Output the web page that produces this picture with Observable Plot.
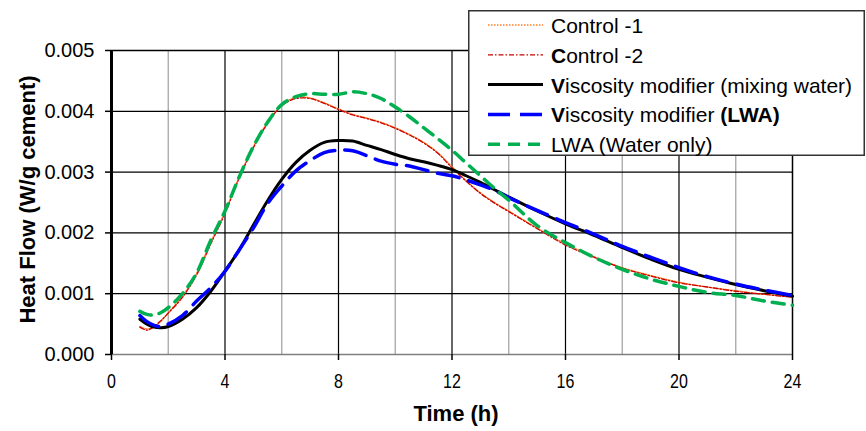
<!DOCTYPE html>
<html>
<head>
<meta charset="utf-8">
<script src="https://cdn.jsdelivr.net/npm/d3@7"></script>
<script src="https://cdn.jsdelivr.net/npm/@observablehq/plot@0.6"></script>
<style>
  body { margin: 0; background: #fff; }
  #wrap { position: relative; width: 866px; height: 431px; font-family: 'Liberation Sans', Arial, sans-serif; }
  #legend { position: absolute; left: 468px; top: 10px; }
</style>
</head>
<body>
<div id="wrap"></div>
<script>
// ---- data ----
const time = [1, 1.25, 1.5, 1.75, 2, 2.5, 3, 3.5, 4, 4.5, 5, 5.5, 6, 6.5, 7, 7.5, 8, 8.5, 9, 9.5, 10, 10.5, 11, 11.5, 12, 12.5, 13, 13.5, 14, 15, 16, 17, 18, 19, 20, 21, 22, 23, 24];

const control1 = [0.00046, 0.00042, 0.00045, 0.00055, 0.00069, 0.00096, 0.00134, 0.00185, 0.00235, 0.00292, 0.00342, 0.00382, 0.00410, 0.00423, 0.00422, 0.00414, 0.00404, 0.00395, 0.00389, 0.00382, 0.00373, 0.00362, 0.00349, 0.00332, 0.00309, 0.00286, 0.00266, 0.00250, 0.00236, 0.00208, 0.00182, 0.00161, 0.00143, 0.00130, 0.00119, 0.00111, 0.00105, 0.00099, 0.00095];

const control2 = [0.00045, 0.00040, 0.00046, 0.00056, 0.00068, 0.00094, 0.00131, 0.00182, 0.00232, 0.00290, 0.00340, 0.00380, 0.00409, 0.00421, 0.00421, 0.00413, 0.00403, 0.00394, 0.00388, 0.00381, 0.00372, 0.00361, 0.00348, 0.00331, 0.00307, 0.00285, 0.00265, 0.00249, 0.00235, 0.00207, 0.00180, 0.00160, 0.00142, 0.00129, 0.00118, 0.00111, 0.00104, 0.00099, 0.00094];

const vmMixing = [0.00058, 0.00050, 0.00045, 0.00044, 0.00046, 0.00058, 0.00077, 0.00104, 0.00137, 0.00172, 0.00213, 0.00253, 0.00288, 0.00316, 0.00336, 0.00349, 0.00352, 0.00351, 0.00344, 0.00337, 0.00329, 0.00322, 0.00317, 0.00311, 0.00304, 0.00294, 0.00283, 0.00271, 0.00259, 0.00236, 0.00215, 0.00196, 0.00176, 0.00157, 0.00140, 0.00127, 0.00115, 0.00105, 0.00096];

const vmLWA = [0.00064, 0.00054, 0.00048, 0.00046, 0.00050, 0.00064, 0.00088, 0.00110, 0.00137, 0.00172, 0.00208, 0.00248, 0.00277, 0.00302, 0.00319, 0.00332, 0.00336, 0.00335, 0.00327, 0.00318, 0.00313, 0.00310, 0.00304, 0.00298, 0.00294, 0.00287, 0.00279, 0.00270, 0.00258, 0.00237, 0.00217, 0.00198, 0.00178, 0.00160, 0.00143, 0.00128, 0.00116, 0.00106, 0.00097];

const lwaWater = [0.00071, 0.00066, 0.00065, 0.00069, 0.00077, 0.00100, 0.00134, 0.00188, 0.00236, 0.00292, 0.00342, 0.00382, 0.00411, 0.00424, 0.00429, 0.00428, 0.00428, 0.00432, 0.00429, 0.00421, 0.00407, 0.00391, 0.00373, 0.00355, 0.00336, 0.00315, 0.00294, 0.00273, 0.00254, 0.00212, 0.00184, 0.00160, 0.00140, 0.00124, 0.00112, 0.00102, 0.00097, 0.00088, 0.00081];

const seriesNames = ["Control -1", "Control -2", "Viscosity modifier (mixing water)", "Viscosity modifier (LWA)", "LWA (Water only)"];
const seriesValues = [control1, control2, vmMixing, vmLWA, lwaWater];
const seriesColors = ["#ff7f27", "#cc0000", "#000000", "#0000ff", "#00b050"];
const seriesDash = ["1.5,1.5", "5,2,1.5,2", null, "22,10", "12,8"];
const seriesWidth = [1.3, 1.3, 3, 3.5, 3.5];
// legend text pieces that the reference renders in bold
const legendBold = [[], ["C"], ["V"], ["V", "(LWA)"], []];

const xTicks = [0, 4, 8, 12, 16, 20, 24];
const xMinor = [2, 6, 10, 14, 18, 22];
const yTicks = [0, 0.001, 0.002, 0.003, 0.004, 0.005];

// ---- table built from the arrays ----
const rows = seriesNames.map((name, i) => time.map((t, j) => ({series: name, time: t, value: seriesValues[i][j]})));

const lineMarks = rows.map((data, i) => Plot.line(data, {
  x: "time", y: "value",
  stroke: seriesColors[i],
  strokeWidth: seriesWidth[i],
  strokeDasharray: seriesDash[i] || undefined,
  curve: "catmull-rom"
}));

const chart = Plot.plot({
  width: 866,
  height: 431,
  marginLeft: 111,
  marginRight: 74,
  marginTop: 50,
  marginBottom: 77,
  x: {domain: [0, 24]},
  y: {domain: [0, 0.005]},
  style: {fontFamily: "'Liberation Sans', Arial, sans-serif", fontSize: "20px", color: "#000", background: "#fff"},
  marks: [
    Plot.gridX(xMinor, {stroke: "#a6a6a6", strokeOpacity: 1, strokeWidth: 1.3}),
    Plot.gridX(xTicks.slice(1, -1), {stroke: "#000", strokeOpacity: 1, strokeWidth: 1.2}),
    Plot.gridY(yTicks.slice(1, -1), {stroke: "#000", strokeOpacity: 1, strokeWidth: 1.2}),
    Plot.ruleY([0.005], {stroke: "#000", strokeWidth: 1.5}),
    Plot.ruleX([24], {stroke: "#000", strokeWidth: 1.5}),
    Plot.ruleY([0], {stroke: "#808080", strokeWidth: 1.5}),
    Plot.ruleX([0], {stroke: "#000", strokeWidth: 3}),
    Plot.axisY(yTicks, {tickSize: 6, tickPadding: 11, tickFormat: d => d.toFixed(3), label: null, fontSize: 20, strokeWidth: 1.5}),
    Plot.axisX(xTicks, {tickSize: 6, tickPadding: 13, label: null, fontSize: 20, strokeWidth: 1.5}),
    ...lineMarks,
    Plot.text(["Heat Flow (W/g cement)"], {text: d => d, frameAnchor: "left", textAnchor: "middle", lineAnchor: "middle", dx: -84, dy: -3, rotate: -90, fontSize: 22, fontWeight: "bold"}),
    Plot.text(["Time (h)"], {text: d => d, frameAnchor: "bottom", lineAnchor: "middle", dx: 4, dy: 59, fontSize: 22, fontWeight: "bold"})
  ]
});

const wrap = document.getElementById("wrap");
wrap.appendChild(chart);

// condensed x tick labels, as in the reference
d3.select(chart).selectAll('g[aria-label="x-axis tick label"] text').each(function () {
  const tr = this.getAttribute("transform") || "";
  this.setAttribute("transform", tr + " scale(0.8,1)");
  this.setAttribute("font-size", "20");
  this.style.fontSize = "20px";
});

// ---- legend overlay ----
const lw = 397, lh = 146;
const leg = d3.select(wrap).append("svg")
  .attr("id", "legend")
  .attr("width", lw)
  .attr("height", lh);
leg.append("rect")
  .attr("x", 0.75).attr("y", 0.75)
  .attr("width", lw - 1.5).attr("height", lh - 1.5)
  .attr("fill", "#fff").attr("stroke", "#333").attr("stroke-width", 1.5);
const item = leg.selectAll("g.item").data(seriesNames).join("g")
  .attr("class", "item")
  .attr("transform", (d, i) => `translate(0,${15 + i * 29.8})`);
item.append("line")
  .attr("x1", 20).attr("x2", 75).attr("y1", 0).attr("y2", 0)
  .attr("stroke", (d, i) => seriesColors[i])
  .attr("stroke-width", (d, i) => seriesWidth[i])
  .attr("stroke-dasharray", (d, i) => seriesDash[i]);
item.each(function (name, i) {
  const t = d3.select(this).append("text")
    .attr("x", 83).attr("y", 2)
    .attr("dominant-baseline", "middle")
    .attr("font-family", "'Liberation Sans', Arial, sans-serif")
    .attr("font-size", 21);
  // split the name into plain and bold pieces
  let rest = name;
  const pieces = [];
  for (const b of legendBold[i]) {
    const k = rest.indexOf(b);
    if (k < 0) continue;
    if (k > 0) pieces.push([rest.slice(0, k), false]);
    pieces.push([b, true]);
    rest = rest.slice(k + b.length);
  }
  if (rest) pieces.push([rest, false]);
  for (const [s, bold] of pieces) {
    t.append("tspan").attr("font-weight", bold ? "bold" : null).text(s);
  }
});
</script>
</body>
</html>
